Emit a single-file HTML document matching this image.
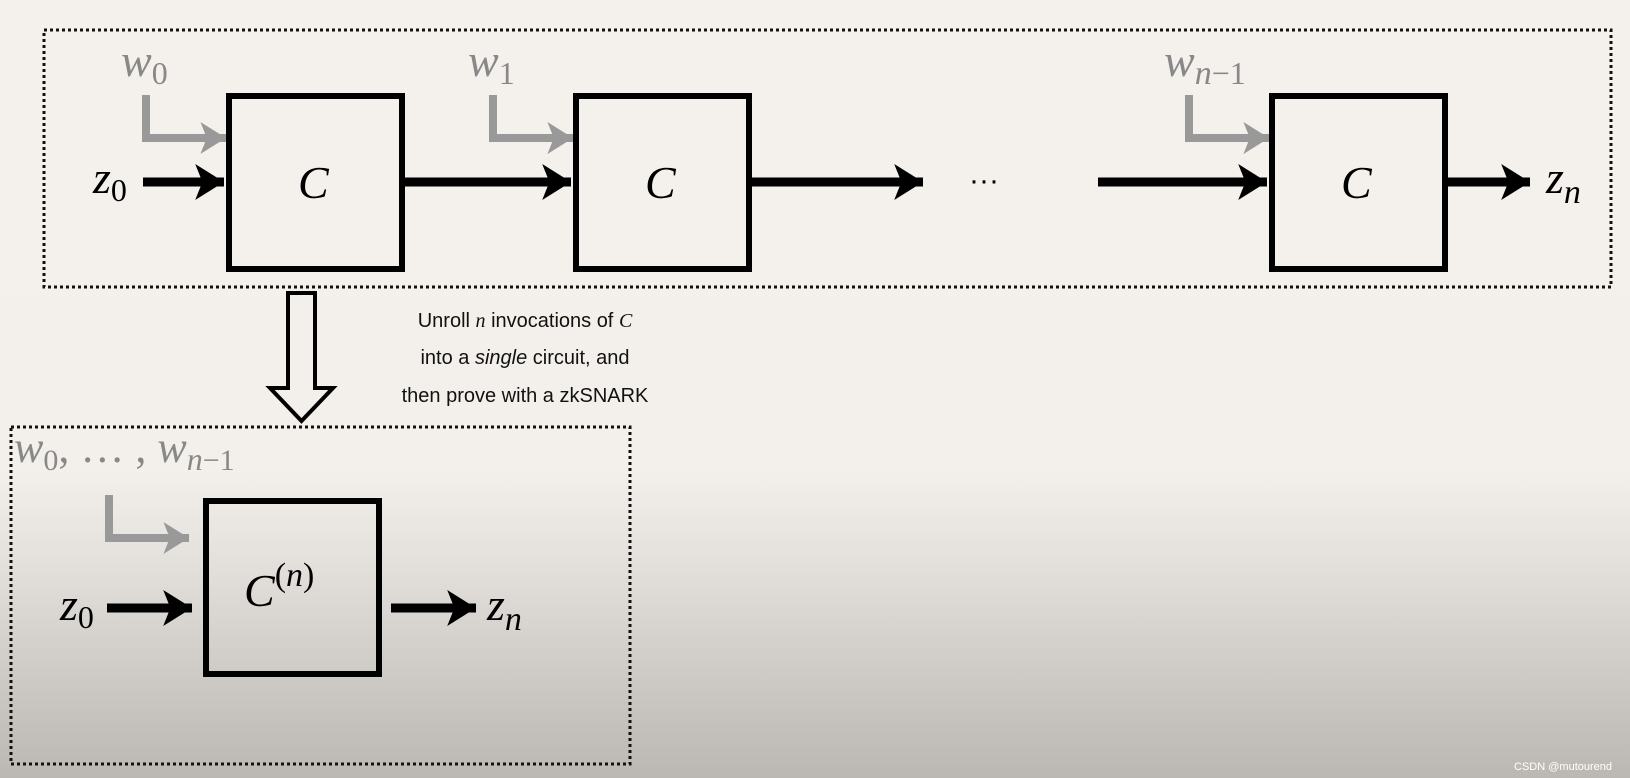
<!DOCTYPE html>
<html><head><meta charset="utf-8"><style>
html,body{margin:0;padding:0;}
body{width:1630px;height:778px;overflow:hidden;background:linear-gradient(to bottom,#f4f1ed 0px,#f3f0ec 470px,#e4e1dd 560px,#c9c5c1 700px,#bbb7b3 778px);}
svg{display:block;}
.m{font-family:"Liberation Serif",serif;font-style:italic;}
.t{font-family:"Liberation Sans",sans-serif;font-size:20px;fill:#111;}
</style></head><body>
<svg width="1630" height="778" viewBox="0 0 1630 778" xmlns="http://www.w3.org/2000/svg">
<defs>
<marker id="ab" markerWidth="4" markerHeight="4" refX="3.2" refY="2" orient="auto" markerUnits="strokeWidth"><path d="M0,0 L3.2,2 L0,4 L0.8,2 Z" fill="#000"/></marker>
<marker id="ag" markerWidth="4" markerHeight="4" refX="3.2" refY="2" orient="auto" markerUnits="strokeWidth"><path d="M0,0 L3.2,2 L0,4 L0.8,2 Z" fill="#999"/></marker>
</defs>
<!-- top dotted box -->
<rect x="44" y="30" width="1567" height="257" fill="none" stroke="#111" stroke-width="3" stroke-dasharray="3,3"/>
<!-- boxes -->
<rect x="229" y="96" width="173" height="173" fill="none" stroke="#000" stroke-width="6"/>
<rect x="576" y="96" width="173" height="173" fill="none" stroke="#000" stroke-width="6"/>
<rect x="1272" y="96" width="173" height="173" fill="none" stroke="#000" stroke-width="6"/>
<text x="298" y="198" class="m" font-size="46">C</text>
<text x="645" y="198" class="m" font-size="46">C</text>
<text x="1341" y="198" class="m" font-size="46">C</text>
<!-- black arrows -->
<g stroke="#000" stroke-width="9" fill="none">
<line x1="143" y1="182" x2="224" y2="182" marker-end="url(#ab)"/>
<line x1="405" y1="182" x2="571" y2="182" marker-end="url(#ab)"/>
<line x1="752" y1="182" x2="923" y2="182" marker-end="url(#ab)"/>
<line x1="1098" y1="182" x2="1267" y2="182" marker-end="url(#ab)"/>
<line x1="1448" y1="182" x2="1530" y2="182" marker-end="url(#ab)"/>
</g>
<!-- gray L arrows -->
<g stroke="#999" stroke-width="8" fill="none">
<polyline points="146,95 146,138 226,138" marker-end="url(#ag)"/>
<polyline points="493,95 493,138 573,138" marker-end="url(#ag)"/>
<polyline points="1189,95 1189,138 1269,138" marker-end="url(#ag)"/>
</g>
<!-- labels -->
<text x="93" y="193" class="m" font-size="46">z<tspan font-size="32" font-style="normal" dy="8">0</tspan></text>
<text x="1546" y="193" class="m" font-size="46">z<tspan font-size="34" dy="10">n</tspan></text>
<text x="121" y="76" class="m" font-size="46" fill="#888">w<tspan font-size="32" font-style="normal" dy="8">0</tspan></text>
<text x="468" y="76" class="m" font-size="46" fill="#888">w<tspan font-size="32" font-style="normal" dy="8">1</tspan></text>
<text x="1164" y="76" class="m" font-size="46" fill="#888">w<tspan font-size="34" dy="8">n</tspan><tspan font-size="32" font-style="normal">−1</tspan></text>
<text x="969" y="190" font-family="Liberation Sans,sans-serif" font-size="30" fill="#000">···</text>
<!-- hollow down arrow -->
<path d="M288,293 L315,293 L315,388 L333,388 L301.5,421 L270,388 L288,388 Z" fill="#f3f0ec" stroke="#000" stroke-width="4"/>
<text x="525" y="327" class="t" text-anchor="middle">Unroll <tspan class="m">n</tspan> invocations of <tspan class="m">C</tspan></text>
<text x="525" y="364" class="t" text-anchor="middle">into a <tspan font-style="italic">single</tspan> circuit, and</text>
<text x="525" y="402" class="t" text-anchor="middle">then prove with a zkSNARK</text>
<!-- bottom dotted box -->
<rect x="11" y="427" width="619" height="337" fill="none" stroke="#111" stroke-width="3" stroke-dasharray="3,3"/>
<text x="14" y="462" class="m" font-size="44" fill="#888">w<tspan font-size="30" font-style="normal" dy="8">0</tspan><tspan font-style="normal" dy="-8">, … , </tspan>w<tspan font-size="32" dy="8">n</tspan><tspan font-size="30" font-style="normal">−1</tspan></text>
<rect x="206" y="501" width="173" height="173" fill="none" stroke="#000" stroke-width="6"/>
<text x="244" y="606" class="m" font-size="46">C<tspan font-size="34" dy="-20" font-style="normal">(</tspan><tspan font-size="34">n</tspan><tspan font-size="34" font-style="normal">)</tspan></text>
<g stroke="#999" stroke-width="8" fill="none">
<polyline points="109,495 109,538 189,538" marker-end="url(#ag)"/>
</g>
<g stroke="#000" stroke-width="9" fill="none">
<line x1="107" y1="608" x2="192" y2="608" marker-end="url(#ab)"/>
<line x1="391" y1="608" x2="476" y2="608" marker-end="url(#ab)"/>
</g>
<text x="60" y="620" class="m" font-size="46">z<tspan font-size="32" font-style="normal" dy="8">0</tspan></text>
<text x="487" y="620" class="m" font-size="46">z<tspan font-size="34" dy="10">n</tspan></text>
<text x="1612" y="770" font-family="Liberation Sans,sans-serif" font-size="11" fill="#fff" text-anchor="end">CSDN @mutourend</text>
</svg>
</body></html>
